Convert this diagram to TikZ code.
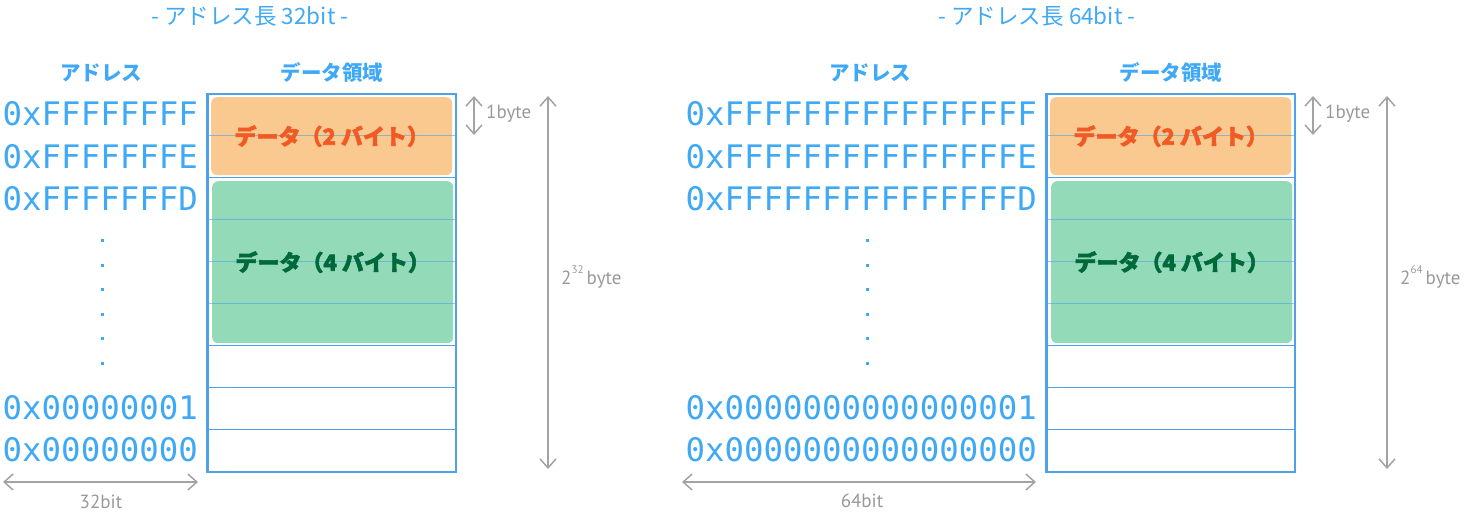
\documentclass[tikz,border=0pt]{standalone}
\usepackage{fontspec}
\usetikzlibrary{arrows.meta}
\newfontfamily\jp{Noto Sans CJK JP}
\newfontfamily\jpfat{Noto Sans CJK JP}[FakeBold=2.5]
\newfontfamily\addrfont{DejaVu Sans Mono}
\newfontfamily\lblfont{PT Sans}
\definecolor{tblue}{HTML}{3FA9F5}
\definecolor{lblue}{HTML}{4FA2E6}
\definecolor{agray}{HTML}{A3A3A3}
\definecolor{lgray}{HTML}{999999}
\definecolor{ofill}{HTML}{FAC98F}
\definecolor{gfill}{HTML}{93DAB9}
\definecolor{otext}{HTML}{F15A24}
\definecolor{gtext}{HTML}{00693A}
\begin{document}
\begin{tikzpicture}[x=1pt,y=-1pt,
  addr/.style={font=\addrfont\fontsize{32.4}{34}\selectfont, text=tblue, anchor=base east, inner sep=0pt},
  hdr/.style={font=\jp\bfseries\fontsize{20.5}{22}\selectfont, text=tblue, inner sep=0pt},
  ttl/.style={font=\jp\fontsize{22.5}{24}\selectfont, text=tblue, inner sep=0pt},
  memframe/.style={draw=lblue, line width=1.5pt, fill=white, anchor=north west, inner sep=0pt, minimum width=248pt, minimum height=377pt},
  databox/.style={rounded corners=6pt, anchor=north west, inner sep=0pt, minimum width=241pt},
  datatext/.style={font=\jpfat\bfseries\fontsize{22}{24}\selectfont, inner sep=0pt},
  gridsolid/.style={draw=lblue, line width=1.2pt},
  gridover/.style={draw=lblue, line width=1.2pt, draw opacity=0.6},
  dotmark/.style={fill=tblue, minimum size=3pt, inner sep=0pt},
  dimline/.style={draw=agray, line width=1.5pt, {Straight Barb[length=9pt,width=16pt]}-{Straight Barb[length=9pt,width=16pt]}},
  lbl/.style={font=\lblfont\fontsize{19}{21}\selectfont, text=lgray, inner sep=0pt}
]
\useasboundingbox (0,0) rectangle (1464,516);

% titles and headers
\node[ttl] (ttlL) at (250,16) {- アドレス長 32bit -};
\node[ttl] (ttlR) at (1037,16) {- アドレス長 64bit -};
\node[hdr] (haL) at (101,73) {アドレス};
\node[hdr] (haR) at (870,73) {アドレス};

\foreach \p/\dx in {L/0,R/839}{
  \node[hdr] (hd\p) at (332+\dx,73) {データ領域};
  \node[memframe] (box\p) at (207+\dx,94) {};
  \node[databox, fill=ofill, minimum height=78pt] (d2\p) at (211+\dx,97) {};
  \node[databox, fill=gfill, minimum height=162pt] (d4\p) at (212+\dx,181) {};
  \foreach \k in {2,6,7,8}{
    \draw[gridsolid] (207+\dx,94+41.9*\k) -- (455+\dx,94+41.9*\k);
  }
  \foreach \k in {1,3,4,5}{
    \draw[gridover] (207+\dx,94+41.9*\k) -- (455+\dx,94+41.9*\k);
  }
  \draw[draw=lblue, line width=1.5pt] (box\p.north west) rectangle (box\p.south east);
  \node[datatext, text=otext] (t2\p) at (d2\p.center) {データ（2 バイト）};
  \node[datatext, text=gtext] (t4\p) at (d4\p.center) {データ（4 バイト）};
  % dimension arrows
  \coordinate (ba\p) at (474+\dx,96);
  \coordinate (bb\p) at (474+\dx,135);
  \draw[dimline] (ba\p) -- (bb\p);
  \node[lbl, anchor=west] (lb\p) at (486+\dx,114) {1byte};
  \coordinate (ta\p) at (548+\dx,96);
  \coordinate (tb\p) at (548+\dx,469);
  \draw[dimline] (ta\p) -- (tb\p);
}
\node[lbl, anchor=west] (tlL) at (561,277) {2\raisebox{0.55em}{\fontsize{11}{11}\selectfont 32}\,byte};
\node[lbl, anchor=west] (tlR) at (1400,277) {2\raisebox{0.55em}{\fontsize{11}{11}\selectfont 64}\,byte};

% addresses left
\node[addr] (a1L) at (198,126) {0xFFFFFFFF};
\node[addr] (a2L) at (198,168) {0xFFFFFFFE};
\node[addr] (a3L) at (198,210) {0xFFFFFFFD};
\node[addr] (a8L) at (198,419) {0x00000001};
\node[addr] (a9L) at (198,461) {0x00000000};
% addresses right
\node[addr] (a1R) at (1037,126) {0xFFFFFFFFFFFFFFFF};
\node[addr] (a2R) at (1037,168) {0xFFFFFFFFFFFFFFFE};
\node[addr] (a3R) at (1037,210) {0xFFFFFFFFFFFFFFFD};
\node[addr] (a8R) at (1037,419) {0x0000000000000001};
\node[addr] (a9R) at (1037,461) {0x0000000000000000};

% dots
\foreach \y [count=\i] in {240,265,289,314,338,363}{
  \node[dotmark] (dL\i) at (102,\y) {};
  \node[dotmark] (dR\i) at (867,\y) {};
}

% bit-width arrows
\coordinate (wla) at (3,482);
\coordinate (wlb) at (198,482);
\draw[dimline] (wla) -- (wlb);
\node[lbl] (wlL) at (101,502) {32bit};
\coordinate (wra) at (682,482);
\coordinate (wrb) at (1036,482);
\draw[dimline] (wra) -- (wrb);
\node[lbl] (wlR) at (862,501) {64bit};
\end{tikzpicture}
\end{document}
